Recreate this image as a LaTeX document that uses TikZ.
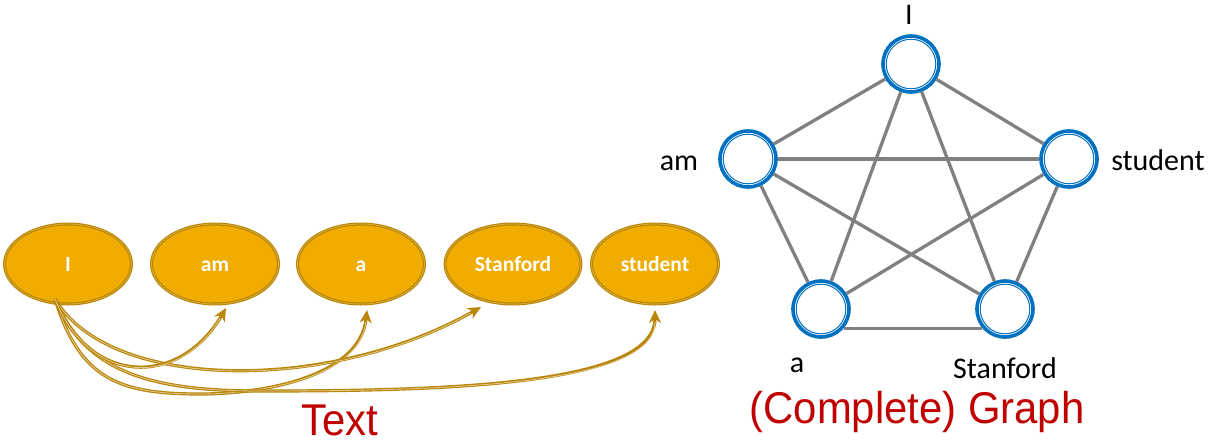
\documentclass[tikz,border=0pt]{standalone}
\usepackage{fontspec}
\usetikzlibrary{shapes.geometric, arrows.meta, calc}
\newfontfamily\calib{Carlito}
\newfontfamily\redfont[FakeStretch=0.94]{Liberation Sans}
\definecolor{efill}{RGB}{240,172,0}
\definecolor{edark}{RGB}{184,134,11}
\definecolor{elight}{RGB}{222,170,50}
\definecolor{alight}{RGB}{225,200,140}
\definecolor{cblue}{RGB}{0,112,192}
\definecolor{egray}{RGB}{128,128,128}
\definecolor{tred}{RGB}{192,0,0}
\newcommand\goldarr[1]{\draw[aout] #1; \draw[ain] #1;}
\begin{document}
\begin{tikzpicture}[x=1pt,y=-1pt,
  word/.style={ellipse, fill=efill, draw=edark, line width=1.1pt, double=elight,
    double distance=0.8pt, minimum width=127pt, minimum height=80pt, inner sep=0pt,
    text height=19.5pt, text depth=4pt,
    text=white, font=\calib\bfseries\fontsize{21.5}{25}\selectfont},
  vert/.style={circle, fill=white, draw=cblue, line width=3.6pt, minimum size=56pt, inner sep=0pt},
  ring/.style={draw=cblue, line width=1pt},
  gedge/.style={draw=egray, line width=3.3pt},
  lab/.style={anchor=base, inner sep=0pt, font=\calib\fontsize{30}{36}\selectfont},
  title/.style={anchor=base, inner sep=0pt, text=tred, font=\redfont\fontsize{44.5}{52}\selectfont},
  aout/.style={draw=edark, line width=3.2pt, -{Stealth[length=13pt, width=12pt, inset=4pt]}},
  ain/.style={draw=alight, line width=0.8pt, shorten >=12pt}]
\useasboundingbox (0,0) rectangle (1208,442);

% text side
\node[word] (tI) at (68,264) {I};
\node[word] (tam) at (215,264) {am};
\node[word] (ta) at (361,264) {a};
\node[word, minimum width=136pt] (tStan) at (513,264) {Stanford};
\node[word] (tstud) at (655,264) {student};

\coordinate (s0) at ($(tI.center)+(-13,35)$);
\coordinate (eam) at ($(tam.center)+(11,44)$);
\coordinate (ea) at ($(ta.center)+(6,46)$);
\coordinate (eStan) at ($(tStan.center)+(-32,43)$);
\coordinate (estud) at ($(tstud.center)+(0,46)$);

\goldarr{(s0) .. controls (80,380) and (120,394) .. (200,394) .. controls (260,394) and (360,378) .. (ea)}
\goldarr{(s0) .. controls (85,372) and (150,391) .. (260,391) .. controls (450,391) and (655,385) .. (estud)}
\goldarr{(s0) .. controls (110,392) and (330,393) .. (eStan)}
\goldarr{(s0) .. controls (90,387) and (180,387) .. (eam)}

\node[title] (ttext) at (340,435) {Text};

% graph side
\node[vert] (gI) at (911,64) {};
\node[vert] (gam) at (748,159) {};
\node[vert] (gstud) at (1069,159) {};
\node[vert] (ga) at (821,309) {};
\node[vert] (gStan) at (1005,309) {};

\foreach \n in {gI,gam,gstud,ga,gStan} {\draw[ring] (\n.center) circle[radius=24.8pt];}

\draw[gedge] (gI) -- (gam);
\draw[gedge] (gI) -- (gstud);
\draw[gedge] (gI) -- (ga);
\draw[gedge] (gI) -- (gStan);
\draw[gedge] (gam) -- (gstud);
\draw[gedge] (gam) -- (ga);
\draw[gedge] (gam) -- (gStan);
\draw[gedge] (gstud) -- (ga);
\draw[gedge] (gstud) -- (gStan);
\draw[gedge] (ga.-40) -- (gStan.-140);

\node[lab] (lI) at (909,24) {I};
\node[lab] (lam) at (679,170) {am};
\node[lab] (lstud) at (1158,170) {student};
\node[lab] (la) at (797,372) {a};
\node[lab] (lStan) at (1005,378) {Stanford};

\node[title] (tgraph) at (917,423) {(Complete) Graph};
\end{tikzpicture}
\end{document}
